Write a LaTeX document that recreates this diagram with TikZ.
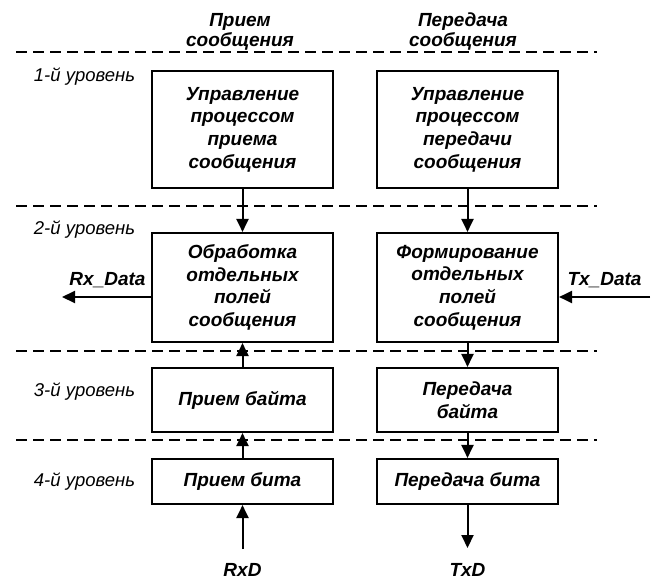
\documentclass[tikz,border=0pt]{standalone}
\usepackage{fontspec}
\setmainfont{Liberation Sans}
\usetikzlibrary{arrows.meta}

\begin{document}
\begin{tikzpicture}[x=1pt,y=-1pt,
  blk/.style={draw,line width=2.1pt,minimum width=181pt,inner sep=0pt,align=center,
    font=\fontsize{19}{22.7}\selectfont\bfseries\itshape},
  hdr/.style={align=center,inner sep=0pt,font=\fontsize{19}{20}\selectfont\bfseries\itshape},
  sig/.style={inner sep=0pt,font=\fontsize{19}{22}\selectfont\bfseries\itshape},
  lvl/.style={inner sep=0pt,font=\fontsize{18.5}{22}\selectfont\itshape},
  sep/.style={line width=2pt,dash pattern=on 10.5pt off 6.5pt},
  arr/.style={line width=2pt,-{Triangle[length=13pt,width=12pt]}}]

\useasboundingbox (0,0) rectangle (652,580);

% level separators
\draw[sep] (16,52) -- (597,52);
\draw[sep] (16,206) -- (597,206);
\draw[sep] (16,351) -- (597,351);
\draw[sep] (16,440) -- (597,440);

% column headings
\node[hdr] (hL) at (240,32) {Прием\\сообщения};
\node[hdr] (hR) at (463,32) {Передача\\сообщения};

% level names
\node[lvl] (l1) at (84.5,77) {1-й уровень};
\node[lvl] (l2) at (84.5,230) {2-й уровень};
\node[lvl] (l3) at (84.5,392) {3-й уровень};
\node[lvl] (l4) at (84.5,482) {4-й уровень};

% receive column
\node[blk,minimum height=117pt] (b1L) at (242.5,129.5) {Управление\\процессом\\приема\\сообщения};
\node[blk,minimum height=109pt] (b2L) at (242.5,287.5) {Обработка\\отдельных\\полей\\сообщения};
\node[blk,minimum height=64pt] (b3L) at (242.5,400) {Прием байта};
\node[blk,minimum height=45pt] (b4L) at (242.5,481.5) {Прием бита};

% transmit column
\node[blk,minimum height=117pt] (b1R) at (467.5,129.5) {Управление\\процессом\\передачи\\сообщения};
\node[blk,minimum height=109pt] (b2R) at (467.5,287.5) {Формирование\\отдельных\\полей\\сообщения};
\node[blk,minimum height=64pt] (b3R) at (467.5,400) {Передача\\байта};
\node[blk,minimum height=45pt] (b4R) at (467.5,481.5) {Передача бита};

% external signals
\node[sig] (rxd) at (242.5,570) {RxD};
\node[sig] (txd) at (467.5,570) {TxD};
\node[sig] (rxdata) at (107.5,280) {Rx\_Data};
\node[sig] (txdata) at (604.5,280) {Tx\_Data};
\coordinate (rxin) at (242.5,549);
\coordinate (txout) at (467.5,548);
\coordinate (rxend) at (62,297);
\coordinate (txbeg) at (650,297);

% receive flow (upwards)
\draw[arr] (rxin) -- (b4L.south);
\draw[arr] (b4L.north) -- (b3L.south);
\draw[arr] (b3L.north) -- (b2L.south);
\draw[arr] (b1L.south) -- (b2L.north);
\draw[arr] (b2L.west |- rxend) -- (rxend);

% transmit flow (downwards)
\draw[arr] (b1R.south) -- (b2R.north);
\draw[arr] (b2R.south) -- (b3R.north);
\draw[arr] (b3R.south) -- (b4R.north);
\draw[arr] (b4R.south) -- (txout);
\draw[arr] (txbeg) -- (b2R.east |- txbeg);
\end{tikzpicture}
\end{document}
